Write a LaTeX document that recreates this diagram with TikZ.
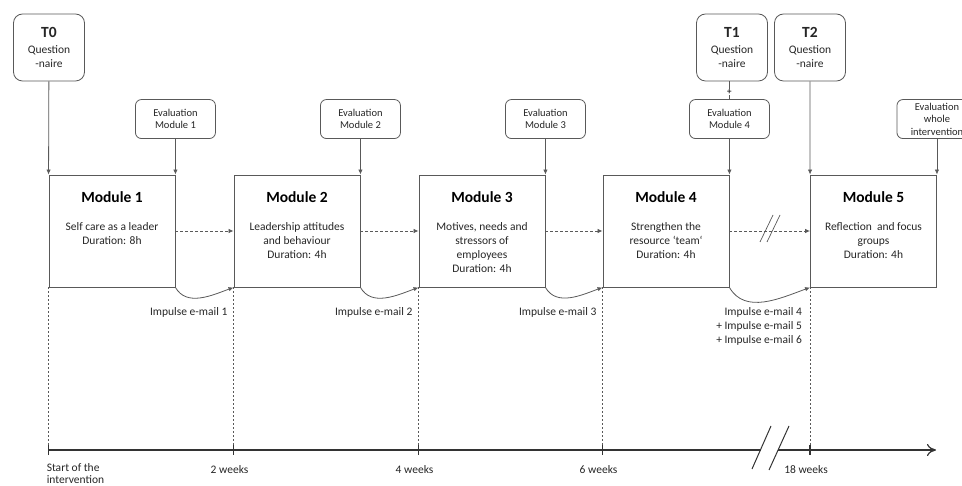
\documentclass[tikz,border=0pt]{standalone}
\usepackage{fontspec}
\setmainfont{Carlito}
\usetikzlibrary{arrows.meta}
\definecolor{linegray}{HTML}{595959}
\definecolor{textgray}{HTML}{262626}

\begin{document}
\begin{tikzpicture}[x=1pt,y=1pt,
  font=\fontsize{11.5}{14}\selectfont, text=textgray,
  tbox/.style={draw=linegray,line width=0.8pt,rounded corners=9pt,minimum width=71pt,minimum height=67pt,align=center,inner sep=0pt},
  evalbox/.style={draw=linegray,line width=0.8pt,rounded corners=6pt,minimum width=80pt,minimum height=39pt,align=center,inner sep=0pt,font=\fontsize{10.5}{12.5}\selectfont},
  modbox/.style={draw=linegray,line width=0.9pt,minimum width=126pt,minimum height=112pt,inner sep=0pt},
  modtitle/.style={font=\fontsize{15.5}{18}\selectfont\bfseries,text=black},
  moddesc/.style={anchor=north,align=center,inner sep=0pt},
  arr/.style={draw=linegray,line width=0.8pt,-{Latex[length=5pt,width=4.5pt]}},
  dasharr/.style={arr,dash pattern=on 3pt off 2pt},
  guide/.style={draw=linegray,line width=0.6pt,dash pattern=on 2pt off 2pt},
  axis/.style={draw=black!80,line width=1.2pt},
  impulse/.style={anchor=north east,align=right,inner sep=0pt},
  weeklbl/.style={anchor=north,inner sep=0pt},
]
\useasboundingbox (0,0) rectangle (962,-486);

% Modules
\foreach \n/\x/\desc in {
  1/112/{Self care as a leader\\Duration: 8h},
  2/297/{Leadership attitudes\\and behaviour\\Duration: 4h},
  3/482/{Motives, needs and\\stressors of\\employees\\Duration: 4h},
  4/666/{Strengthen the\\resource ‘team‘\\Duration: 4h},
  5/873.5/{Reflection\ \ and focus\\groups\\Duration: 4h}} {
  \node[modbox] (m\n) at (\x,-231) {};
  \node[modtitle] at ([yshift=-23pt]m\n.north) {Module \n};
  \node[moddesc] at ([yshift=-47.5pt]m\n.north) {\desc};
}

% Questionnaires
\node[tbox] (t0) at (49,-47.5) {{\fontsize{15.5}{17}\selectfont\bfseries T0}\\[2pt]Question\\-naire};
\node[tbox] (t1) at (732,-47.5) {{\fontsize{15.5}{17}\selectfont\bfseries T1}\\[2pt]Question\\-naire};
\node[tbox] (t2) at (810,-47.5) {{\fontsize{15.5}{17}\selectfont\bfseries T2}\\[2pt]Question\\-naire};

% Evaluations
\foreach \n in {1,2,3,4} {
  \node[evalbox] (e\n) at ([yshift=55.5pt]m\n.north east) {Evaluation\\Module \n};
  \draw[arr] (e\n) -- (m\n.north east);
}
\node[evalbox] (e5) at ([yshift=55.5pt]m5.north east) {Evaluation\\whole\\intervention};
\draw[arr] (e5) -- (m5.north east);

\draw[arr] (t0) -- (m1.north west);
\draw[arr] (t2) -- (m5.north west);
\draw[draw=linegray,line width=0.8pt] (e4.north |- t1.south) -- node[pos=0.6,fill=white,inner sep=0.5pt,font=\fontsize{9}{9}\selectfont\bfseries]{+} (e4.north);

% Between modules
\foreach \n/\m in {1/2,2/3,3/4,4/5} {
  \draw[dasharr] (m\n) -- (m\m);
  \draw[arr] (m\n.south east) to[out=-60,in=200] (m\m.south west);
}
\draw[linegray,line width=0.7pt] (760,-242) -- (773,-215);
\draw[linegray,line width=0.7pt] (767,-242) -- (780,-215);

\foreach \n/\m in {1/2,2/3,3/4} {
  \node[impulse] (i\n) at ([xshift=-6pt,yshift=-20pt]m\m.south west) {Impulse e-mail \n};
}
\node[impulse] (i4) at ([xshift=-8pt,yshift=-20pt]m5.south west) {Impulse e-mail 4\\+ Impulse e-mail 5\\+ Impulse e-mail 6};

% Timeline
\coordinate (ax0) at (49,-450);
\coordinate (ax1) at (936,-450);
\coordinate (gap0) at (760.5,-450);
\coordinate (gap1) at (778,-450);
\draw[axis] (ax0) -- (gap0);
\draw[axis,-{To[length=9pt,width=12pt,line width=1.2pt]}] (gap1) -- (ax1);
\draw[axis,line width=1pt] (752,-469) -- (771,-426);
\draw[axis,line width=1pt] (769,-470) -- (789,-426);

\foreach \n in {1,...,5} {
  \draw[guide] (m\n.south west) -- (m\n.south west |- ax0);
  \draw[axis] ([yshift=5pt]m\n.south west |- ax0) -- ([yshift=-5pt]m\n.south west |- ax0);
}
\node[weeklbl,anchor=north west,align=left,font=\fontsize{11.5}{12}\selectfont] (w1) at ([xshift=-2pt,yshift=-13pt]m1.south west |- ax0) {Start of the\\intervention};
\foreach \n/\lbl in {2/2 weeks,3/4 weeks,4/6 weeks,5/18 weeks} {
  \node[weeklbl] (w\n) at ([xshift=-4pt,yshift=-15pt]m\n.south west |- ax0) {\lbl};
}
\end{tikzpicture}
\end{document}
